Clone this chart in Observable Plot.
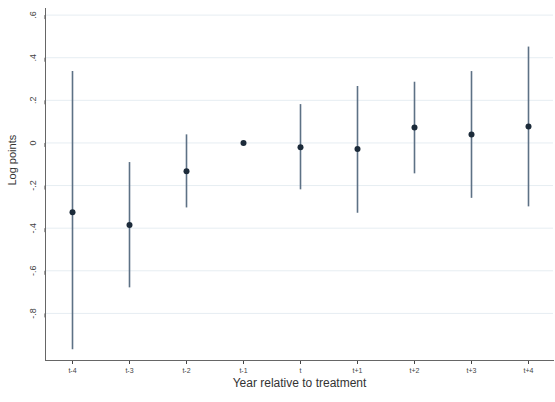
<!DOCTYPE html>
<html><head><meta charset="utf-8">
<script src="https://cdn.jsdelivr.net/npm/d3@7"></script>
<script src="https://cdn.jsdelivr.net/npm/@observablehq/plot@0.6"></script>
<style>body{margin:0;background:#fff}#c svg{display:block}</style>
</head><body><div id="c"></div>
<script>
const periods = ["t-4","t-3","t-2","t-1","t","t+1","t+2","t+3","t+4"];
const estimates = [-0.325,-0.385,-0.133,0,-0.02,-0.028,0.072,0.04,0.077];
const ciLow = [-0.97,-0.68,-0.305,null,-0.22,-0.33,-0.145,-0.26,-0.30];
const ciHigh = [0.335,-0.092,0.038,null,0.18,0.265,0.285,0.335,0.45];
const yTicks = [0.6,0.4,0.2,0,-0.2,-0.4,-0.6,-0.8];
const yTickLabels = [".6",".4",".2","0","-.2","-.4","-.6","-.8"];

const rows = periods.map((p,i)=>({p, est: estimates[i], lo: ciLow[i], hi: ciHigh[i]}));
const ciRows = rows.filter(d => d.lo != null);
const fmt = v => yTickLabels[yTicks.indexOf(v)] ?? String(v);

const chart = Plot.plot({
  width: 555, height: 402,
  marginLeft: 45, marginRight: 2, marginTop: 8, marginBottom: 42,
  style: {fontFamily: "Liberation Sans, Arial, sans-serif", background: "#fff"},
  x: {type: "point", domain: periods, padding: 0, range: [70, 530], label: null},
  y: {domain: [-1.021, 0.631], label: null},
  marks: [
    Plot.ruleY(yTicks, {stroke: "#e6edf2", strokeWidth: 1}),
    Plot.ruleX(ciRows, {x: "p", y1: "lo", y2: "hi", stroke: "#5d7185", strokeWidth: 1.6}),
    Plot.dot(rows, {x: "p", y: "est", r: 3, fill: "#1c2b3a", stroke: "none"}),
    Plot.axisX({ticks: periods, tickSize: 4, tickPadding: 4, fontSize: 7, stroke: "#444", color: "#444", label: null}),
    Plot.axisY({ticks: yTicks, tickFormat: fmt, tickSize: 4, tickPadding: 8, fontSize: 9, stroke: "#444", color: "#444",
      textAnchor: "middle", rotate: -90, label: null}),
    Plot.frame({anchor: "left", stroke: "#666", strokeWidth: 1}),
    Plot.frame({anchor: "bottom", stroke: "#666", strokeWidth: 1}),
    Plot.text(["Log points"], {frameAnchor: "left", dx: -33, y: -0.2, rotate: -90, fontSize: 11, fill: "#333"}),
    Plot.text(["Year relative to treatment"], {frameAnchor: "bottom", dy: 26, fontSize: 12, fill: "#333"})
  ]
});
document.getElementById("c").append(chart);
</script>
</body></html>
